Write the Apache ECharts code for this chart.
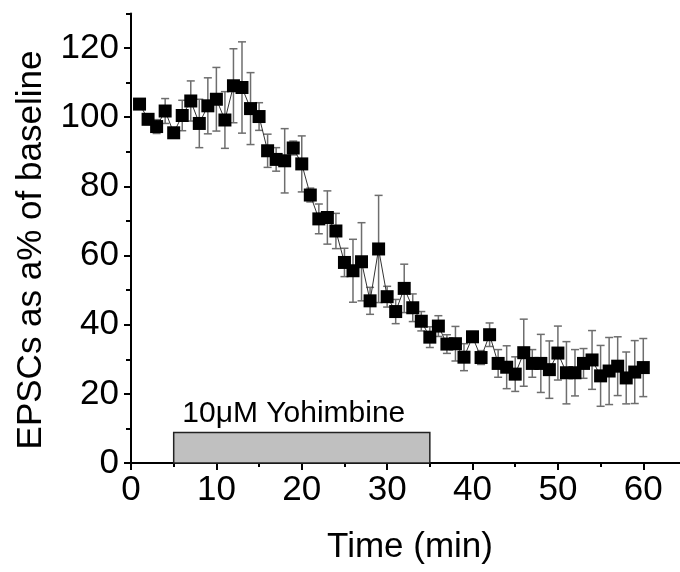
<!DOCTYPE html>
<html>
<head>
<meta charset="utf-8">
<script src="https://cdn.jsdelivr.net/npm/echarts@6/dist/echarts.min.js"></script>
<style>
html,body{margin:0;padding:0;background:#fff;}
#chart{width:680px;height:572px;}
</style>
</head>
<body>
<div id="chart"></div>
<script>
// ---- data ----
const times = [1,2,3,4,5,6,7,8,9,10,11,12,13,14,15,16,17,18,19,20,21,22,23,24,25,26,27,28,29,30,
  31,32,33,34,35,36,37,38,39,40,41,42,43,44,45,46,47,48,49,50,51,52,53,54,55,56,57,58,59,60];
const values = [103.8,99.4,97.3,101.8,95.5,100.5,104.7,98.2,103.3,105.2,99.2,109.1,108.6,102.5,100.2,
  90.3,87.8,87.4,91.1,86.5,77.5,70.6,71.0,67.1,58.0,55.6,58.2,46.9,61.9,48.1,
  43.8,50.5,44.9,41.0,36.4,39.6,34.4,34.5,30.6,36.5,30.5,37.1,28.8,27.7,25.7,
  31.9,28.8,28.8,27.0,31.8,26.1,26.1,28.8,29.8,25.2,26.6,28.0,24.6,26.3,27.6];
const errors = [1.5,1.5,2.0,3.6,1.5,4.4,5.8,7.0,8.1,9.2,8.2,10.7,13.2,10.4,4.0,
  4.8,3.4,9.3,2.0,8.1,2.0,4.3,7.7,5.1,4.1,9.1,11.3,3.9,15.5,3.0,
  3.5,7.0,4.0,2.8,3.0,3.0,2.7,5.0,3.9,1.5,2.0,3.4,4.0,6.2,5.0,
  9.7,4.0,8.4,8.3,7.8,9.0,6.7,4.3,8.5,8.8,9.7,8.5,7.5,9.1,8.4];
const xTickLabels = [0,10,20,30,40,50,60];
const xMinorTicks = [5,15,25,35,45,55];
const yTickLabels = [0,20,40,60,80,100,120];
const yMinorTicks = [10,30,50,70,90,110,130];
const drugStart = 5, drugEnd = 35, drugBarTop = 8.8;
const drugLabel = '10μM Yohimbine';
const xTitle = 'Time (min)';
const yTitle = 'EPSCs as a% of baseline';

// ---- chart ----
const FONT = '"Liberation Sans", Arial, sans-serif';
const chart = echarts.init(document.getElementById('chart'), null, {renderer: 'canvas'});
const X_MAX = 64.3, Y_MAX = 130;

const mainXAxis = {
  type: 'value', min: 0, max: X_MAX, position: 'bottom',
  axisLine: {show: true, onZero: false, lineStyle: {color: '#000', width: 2}},
  axisTick: {show: true, customValues: xTickLabels, length: 7, lineStyle: {color: '#000', width: 2}},
  axisLabel: {show: true, customValues: xTickLabels, margin: 10, color: '#000', fontSize: 35, fontFamily: FONT},
  splitLine: {show: false}
};
const minorXAxis = {
  type: 'value', min: 0, max: X_MAX, position: 'bottom', offset: 0,
  axisLine: {show: false},
  axisTick: {show: true, customValues: xMinorTicks, length: 4, lineStyle: {color: '#000', width: 2}},
  axisLabel: {show: false},
  splitLine: {show: false}
};
const mainYAxis = {
  type: 'value', min: 0, max: Y_MAX, position: 'left',
  axisLine: {show: true, onZero: false, lineStyle: {color: '#000', width: 2}},
  axisTick: {show: true, customValues: yTickLabels, length: 7, lineStyle: {color: '#000', width: 2}},
  axisLabel: {show: true, customValues: yTickLabels, margin: 12, color: '#000', fontSize: 35, fontFamily: FONT},
  splitLine: {show: false}
};
const minorYAxis = {
  type: 'value', min: 0, max: Y_MAX, position: 'left', offset: 0,
  axisLine: {show: false},
  axisTick: {show: true, customValues: yMinorTicks, length: 5, lineStyle: {color: '#000', width: 2}},
  axisLabel: {show: false},
  splitLine: {show: false}
};

const errData = times.map((t, i) => [t, values[i] - errors[i], values[i] + errors[i]]);
const lineData = times.map((t, i) => [t, values[i]]);

chart.setOption({
  animation: false,
  backgroundColor: '#fff',
  grid: {left: 131, right: 0, top: 13.5, bottom: 109, containLabel: false},
  xAxis: [mainXAxis, minorXAxis],
  yAxis: [mainYAxis, minorYAxis],
  graphic: [
    {type: 'text', x: 410, y: 547, style: {text: xTitle, fontSize: 35, fontFamily: FONT, fill: '#000', align: 'center', verticalAlign: 'middle'}},
    {type: 'text', x: 31, y: 250, rotation: Math.PI / 2, style: {text: yTitle, fontSize: 35, fontFamily: FONT, fill: '#000', align: 'center', verticalAlign: 'middle'}}
  ],
  series: [
    {
      type: 'custom', xAxisIndex: 0, yAxisIndex: 0, z: 2,
      data: errData,
      encode: {x: 0, y: [1, 2]},
      renderItem: function (params, api) {
        const x = api.value(0), lo = api.value(1), hi = api.value(2);
        const p1 = api.coord([x, hi]);
        const p2 = api.coord([x, lo]);
        const hw = 4;
        const st = {stroke: '#6e6e6e', lineWidth: 1.5};
        return {type: 'group', children: [
          {type: 'line', shape: {x1: p1[0], y1: p1[1], x2: p2[0], y2: p2[1]}, style: st},
          {type: 'line', shape: {x1: p1[0] - hw, y1: p1[1], x2: p1[0] + hw, y2: p1[1]}, style: st},
          {type: 'line', shape: {x1: p2[0] - hw, y1: p2[1], x2: p2[0] + hw, y2: p2[1]}, style: st}
        ]};
      },
      markArea: {
        silent: true,
        itemStyle: {color: '#c0c0c0', borderColor: '#222', borderWidth: 1.5, opacity: 1},
        label: {show: true, position: 'top', distance: 3, offset: [-8, 0], color: '#000', fontSize: 30, fontFamily: FONT},
        data: [[{name: drugLabel, xAxis: drugStart, yAxis: 0}, {xAxis: drugEnd, yAxis: drugBarTop}]]
      }
    },
    {
      type: 'line', xAxisIndex: 0, yAxisIndex: 0, z: 3,
      data: lineData,
      symbol: 'rect', symbolSize: 13,
      itemStyle: {color: '#000'},
      lineStyle: {color: '#333', width: 1},
      emphasis: {disabled: true}
    }
  ]
});
</script>
</body>
</html>
